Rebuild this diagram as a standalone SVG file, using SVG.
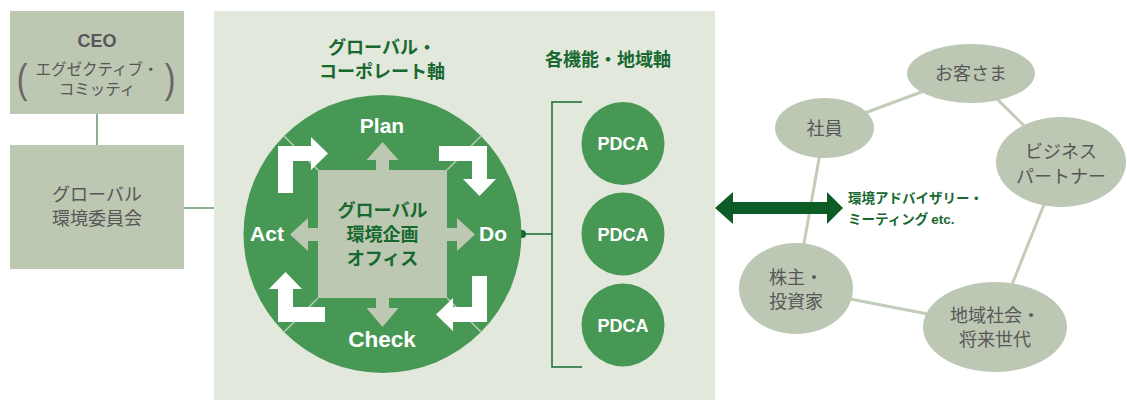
<svg xmlns="http://www.w3.org/2000/svg" width="1127" height="400" viewBox="0 0 1127 400">
<style>
.box{fill:#bdc8b3}
.jp{font-family:"Noto Sans CJK JP","Liberation Sans",sans-serif}
.gray{fill:#575757}
.dg{fill:#17692f}
.en{font-family:"Liberation Sans",Arial,sans-serif;font-weight:bold}
.w{fill:#ffffff}
.ell{fill:#bcc8b3}
.pd{fill:#479855}
.lk{stroke:#c2cdb9;stroke-width:3;fill:none}
.br{stroke:#17692f;stroke-width:1.5;fill:none}
.wa{fill:#ffffff}
.cr{fill:#bcc8b2}
</style>
<rect width="1127" height="400" fill="#ffffff"/>
<!-- panel -->
<rect x="214" y="11" width="501" height="389" fill="#e3e8dc"/>

<g id="connectors">
  <line x1="97" y1="114" x2="97" y2="145" stroke="#5f9a6e" stroke-width="1.5"/>
  <line x1="184" y1="208" x2="214" y2="208" stroke="#5f9a6e" stroke-width="1.5"/>
  <path class="br" d="M582,102 H552 V367 H582 M522,234 H552"/>
  <circle cx="522" cy="234" r="4" fill="#17692f"/>
  <line class="lk" x1="824.5" y1="128" x2="971" y2="73.5"/>
  <line class="lk" x1="971" y1="73.5" x2="1061" y2="162"/>
  <line class="lk" x1="1061" y1="162" x2="995" y2="327"/>
  <line class="lk" x1="995" y1="327" x2="796" y2="288.5"/>
  <line class="lk" x1="796" y1="288.5" x2="824.5" y2="128"/>
  <polygon fill="#0d5b26" points="715,208 733,192 733,202 827,202 827,192 843,208 827,224 827,214 733,214 733,224"/>
</g>

<g id="ceo">
  <rect class="box" x="10" y="11" width="174" height="103"/>
  <text class="en gray" x="97" y="47" font-size="18" text-anchor="middle">CEO</text>
  <text class="jp gray" x="97" y="75" font-size="15.5" text-anchor="middle">エグゼクティブ・</text>
  <text class="jp gray" x="97" y="95" font-size="15.5" text-anchor="middle">コミッティ</text>
  <text x="22" y="93" font-family="Liberation Sans, sans-serif" font-size="40" font-weight="300" text-anchor="middle" fill="#666666" transform="translate(22 0) scale(0.8 1) translate(-22 0)">(</text>
  <text x="170" y="93" font-family="Liberation Sans, sans-serif" font-size="40" font-weight="300" text-anchor="middle" fill="#666666" transform="translate(170 0) scale(0.8 1) translate(-170 0)">)</text>
</g>

<g id="committee">
  <rect class="box" x="10" y="145" width="174" height="124"/>
  <text class="jp gray" x="97" y="201" font-size="18" text-anchor="middle">グローバル</text>
  <text class="jp gray" x="97" y="225" font-size="18" text-anchor="middle">環境委員会</text>
</g>

<g id="titles">
  <text class="jp dg" x="382" y="54" font-size="18" font-weight="bold" text-anchor="middle">グローバル・</text>
  <text class="jp dg" x="382" y="78" font-size="18" font-weight="bold" text-anchor="middle">コーポレート軸</text>
  <text class="jp dg" x="608" y="66" font-size="18" font-weight="bold" text-anchor="middle">各機能・地域軸</text>
</g>

<g id="pdca-cycle">
  <circle class="pd" cx="382.5" cy="234" r="139"/>
  <g stroke="#b9cdb5" stroke-width="1.5">
    <line x1="318" y1="170" x2="284" y2="136"/>
    <line x1="447" y1="170" x2="481" y2="136"/>
    <line x1="318" y1="298" x2="284" y2="332"/>
    <line x1="447" y1="298" x2="481" y2="332"/>
  </g>
  <!-- cross arrows -->
  <polygon class="cr" points="382.5,142 398.5,160 389,160 389,308 398.5,308 382.5,327 366.5,308 376,308 376,160 366.5,160"/>
  <polygon class="cr" points="290,234.5 308,218 308,228 457,228 457,218 475,234.5 457,251 457,241 308,241 308,251"/>
  <rect class="cr" x="318" y="170" width="129" height="128"/>
  <!-- white L arrows -->
  <polygon class="wa" points="278,193 278,146 311,146 311,137 328,153.5 311,170 311,161 293,161 293,193"/>
  <polygon class="wa" points="439,146 487,146 487,179 496,179 479.5,196 463,179 472,179 472,161 439,161"/>
  <polygon class="wa" points="487,276 487,322 453,322 453,331 436,314.5 453,298 453,307 472,307 472,276"/>
  <polygon class="wa" points="325,322 278,322 278,289 269,289 285.5,272 302,289 293,289 293,307 325,307"/>
  <text class="en w" x="382" y="133" font-size="21" text-anchor="middle">Plan</text>
  <text class="en w" x="267" y="241" font-size="21" text-anchor="middle">Act</text>
  <text class="en w" x="493" y="241" font-size="21" text-anchor="middle">Do</text>
  <text class="en w" x="382" y="347" font-size="22.5" text-anchor="middle">Check</text>
  <text class="jp dg" x="382.5" y="217" font-size="18" font-weight="bold" text-anchor="middle">グローバル</text>
  <text class="jp dg" x="382.5" y="241" font-size="18" font-weight="bold" text-anchor="middle">環境企画</text>
  <text class="jp dg" x="382.5" y="265" font-size="18" font-weight="bold" text-anchor="middle">オフィス</text>
</g>

<g id="pdca1">
  <circle class="pd" cx="623" cy="143.5" r="41.5"/>
  <text class="en w" x="623" y="150" font-size="18" text-anchor="middle">PDCA</text>
</g>
<g id="pdca2">
  <circle class="pd" cx="623" cy="234" r="41.5"/>
  <text class="en w" x="623" y="240.5" font-size="18" text-anchor="middle">PDCA</text>
</g>
<g id="pdca3">
  <circle class="pd" cx="623" cy="325" r="41.5"/>
  <text class="en w" x="623" y="331.5" font-size="18" text-anchor="middle">PDCA</text>
</g>

<g id="meeting-label">
  <text class="jp dg" x="848" y="203" font-size="13.5" font-weight="bold">環境アドバイザリー・</text>
  <text class="jp dg" x="848" y="224" font-size="13.5" font-weight="bold">ミーティング <tspan class="en">etc.</tspan></text>
</g>

<g id="customers">
  <ellipse class="ell" cx="971" cy="73.5" rx="64" ry="29.5"/>
  <text class="jp gray" x="971" y="80" font-size="18" text-anchor="middle">お客さま</text>
</g>
<g id="employees">
  <ellipse class="ell" cx="824.5" cy="128" rx="49.5" ry="30"/>
  <text class="jp gray" x="824.5" y="135" font-size="18" text-anchor="middle">社員</text>
</g>
<g id="partners">
  <ellipse class="ell" cx="1061" cy="162" rx="65" ry="45"/>
  <text class="jp gray" x="1061" y="158" font-size="18" text-anchor="middle">ビジネス</text>
  <text class="jp gray" x="1061" y="183" font-size="18" text-anchor="middle">パートナー</text>
</g>
<g id="shareholders">
  <ellipse class="ell" cx="796" cy="288.5" rx="57" ry="45.5"/>
  <text class="jp gray" x="796" y="284" font-size="18" text-anchor="middle">株主・</text>
  <text class="jp gray" x="796" y="308" font-size="18" text-anchor="middle">投資家</text>
</g>
<g id="community">
  <ellipse class="ell" cx="995" cy="327" rx="72" ry="45"/>
  <text class="jp gray" x="995" y="322" font-size="18" text-anchor="middle">地域社会・</text>
  <text class="jp gray" x="995" y="346" font-size="18" text-anchor="middle">将来世代</text>
</g>
</svg>
